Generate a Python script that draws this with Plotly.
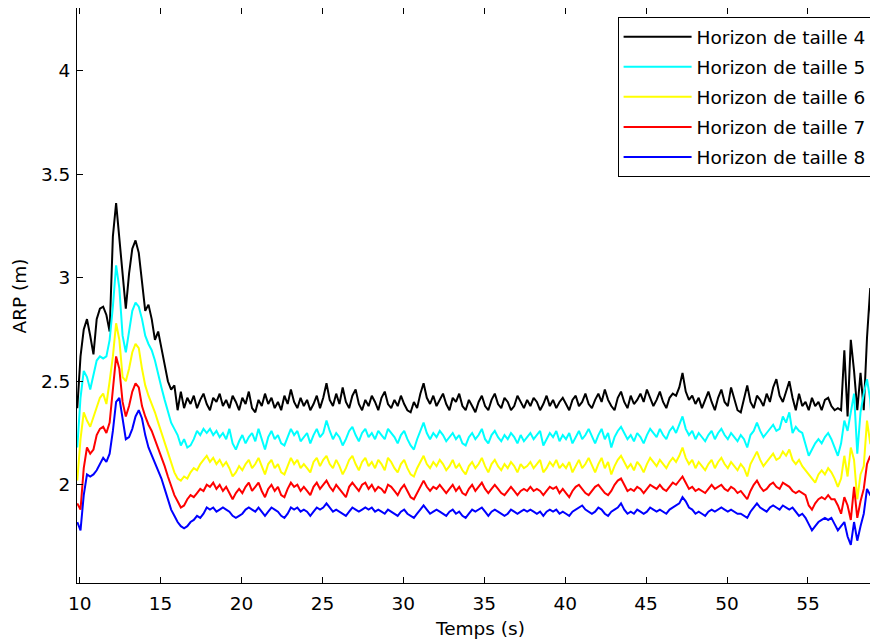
import numpy as np
import plotly.graph_objects as go

# time axis (s): 248 samples, 0.2 s apart
t = np.round(9.85 + 0.2 * np.arange(248), 2)

h4 = [
 2.37, 2.62, 2.75, 2.80, 2.72, 2.63, 2.80, 2.85, 2.86, 2.82,
 2.74, 3.20, 3.36, 3.18, 3.00, 2.85, 3.02, 3.14, 3.18, 3.12,
 2.98, 2.84, 2.87, 2.80, 2.70, 2.74, 2.66, 2.58, 2.50, 2.46,
 2.48, 2.36, 2.45, 2.37, 2.42, 2.39, 2.43, 2.37, 2.41, 2.44,
 2.39, 2.36, 2.42, 2.40, 2.44, 2.38, 2.41, 2.37, 2.43, 2.40,
 2.36, 2.42, 2.39, 2.45, 2.37, 2.35, 2.41, 2.38, 2.44, 2.39,
 2.42, 2.37, 2.40, 2.36, 2.43, 2.39, 2.46, 2.40, 2.37, 2.42,
 2.38, 2.41, 2.36, 2.39, 2.43, 2.37, 2.42, 2.49, 2.41, 2.38,
 2.44, 2.39, 2.47, 2.40, 2.37, 2.43, 2.46, 2.39, 2.36, 2.41,
 2.38, 2.43, 2.40, 2.36, 2.42, 2.45, 2.39, 2.37, 2.41, 2.38,
 2.43, 2.39, 2.36, 2.35, 2.40, 2.37, 2.44, 2.49, 2.42, 2.39,
 2.43, 2.38, 2.41, 2.44, 2.39, 2.36, 2.42, 2.40, 2.44, 2.38,
 2.36, 2.41, 2.38, 2.35, 2.40, 2.43, 2.38, 2.36, 2.41, 2.44,
 2.39, 2.37, 2.42, 2.40, 2.36, 2.38, 2.43, 2.40, 2.37, 2.41,
 2.38, 2.42, 2.40, 2.36, 2.39, 2.43, 2.38, 2.41, 2.37, 2.40,
 2.42, 2.39, 2.36, 2.41, 2.43, 2.38, 2.40, 2.44, 2.39, 2.37,
 2.41, 2.44, 2.40, 2.46, 2.41, 2.38, 2.36, 2.42, 2.45, 2.40,
 2.37, 2.43, 2.39, 2.41, 2.44, 2.40, 2.46, 2.42, 2.38, 2.41,
 2.45, 2.40, 2.37, 2.42, 2.44, 2.43, 2.47, 2.54, 2.45, 2.41,
 2.43, 2.39, 2.42, 2.37, 2.41, 2.45, 2.40, 2.36, 2.42, 2.46,
 2.40, 2.38, 2.47, 2.41, 2.36, 2.35, 2.42, 2.48, 2.40, 2.37,
 2.43, 2.41, 2.38, 2.44, 2.40, 2.47, 2.51, 2.43, 2.40, 2.45,
 2.50, 2.42, 2.36, 2.44, 2.38, 2.40, 2.36, 2.42, 2.38, 2.40,
 2.36, 2.41, 2.42, 2.38, 2.36, 2.37, 2.36, 2.65, 2.33, 2.70,
 2.55, 2.36, 2.54, 2.36, 2.71, 2.95, 2.42, 3.26,
]

h5 = [
 2.18, 2.42, 2.55, 2.52, 2.46, 2.53, 2.60, 2.62, 2.61, 2.62,
 2.70, 2.86, 3.06, 2.95, 2.72, 2.64, 2.74, 2.84, 2.88, 2.86,
 2.80, 2.72, 2.68, 2.65, 2.60, 2.53, 2.47, 2.41, 2.36, 2.30,
 2.27, 2.24, 2.19, 2.22, 2.18, 2.19, 2.22, 2.26, 2.24, 2.27,
 2.25, 2.27, 2.24, 2.26, 2.23, 2.25, 2.22, 2.27, 2.20, 2.17,
 2.21, 2.24, 2.20, 2.23, 2.25, 2.21, 2.27, 2.22, 2.17, 2.23,
 2.26, 2.22, 2.24, 2.20, 2.19, 2.23, 2.27, 2.24, 2.26, 2.21,
 2.23, 2.25, 2.20, 2.24, 2.27, 2.23, 2.25, 2.31, 2.26, 2.22,
 2.25, 2.23, 2.19, 2.22, 2.26, 2.28, 2.24, 2.21, 2.25, 2.27,
 2.23, 2.25, 2.22, 2.26, 2.24, 2.22, 2.27, 2.25, 2.23, 2.20,
 2.24, 2.26, 2.22, 2.19, 2.17, 2.22, 2.26, 2.30, 2.25, 2.22,
 2.25, 2.23, 2.26, 2.24, 2.21, 2.23, 2.25, 2.22, 2.24, 2.20,
 2.19, 2.23, 2.25, 2.22, 2.24, 2.27, 2.22, 2.20, 2.24, 2.26,
 2.23, 2.21, 2.24, 2.22, 2.25, 2.23, 2.20, 2.24, 2.21, 2.23,
 2.25, 2.22, 2.24, 2.26, 2.19, 2.22, 2.25, 2.23, 2.26, 2.21,
 2.24, 2.22, 2.25, 2.20, 2.23, 2.26, 2.22, 2.24, 2.27, 2.23,
 2.20, 2.24, 2.27, 2.22, 2.25, 2.18, 2.23, 2.26, 2.28, 2.25,
 2.22, 2.24, 2.21, 2.25, 2.23, 2.20, 2.24, 2.27, 2.25, 2.23,
 2.27, 2.24, 2.22, 2.26, 2.28, 2.25, 2.29, 2.33, 2.27, 2.24,
 2.26, 2.22, 2.25, 2.23, 2.21, 2.24, 2.26, 2.22, 2.25, 2.27,
 2.24, 2.22, 2.25, 2.23, 2.21, 2.24, 2.22, 2.18, 2.24, 2.26,
 2.30, 2.26, 2.23, 2.25, 2.27, 2.29, 2.26, 2.27, 2.33, 2.30,
 2.35, 2.25, 2.28, 2.26, 2.25, 2.20, 2.14, 2.17, 2.20, 2.22,
 2.20, 2.23, 2.25, 2.22, 2.18, 2.14, 2.20, 2.31, 2.26, 2.35,
 2.44, 2.15, 2.35, 2.44, 2.51, 2.41, 2.18, 2.76,
]

h6 = [
 2.02, 2.22, 2.35, 2.31, 2.28, 2.33, 2.38, 2.42, 2.44, 2.39,
 2.50, 2.62, 2.78, 2.70, 2.52, 2.50, 2.56, 2.64, 2.68, 2.66,
 2.56, 2.48, 2.43, 2.39, 2.35, 2.30, 2.25, 2.20, 2.15, 2.10,
 2.06, 2.03, 2.02, 2.04, 2.03, 2.06, 2.08, 2.07, 2.10, 2.12,
 2.14, 2.11, 2.13, 2.10, 2.12, 2.09, 2.11, 2.08, 2.04, 2.06,
 2.09, 2.07, 2.10, 2.12, 2.08, 2.10, 2.13, 2.09, 2.05, 2.10,
 2.12, 2.08, 2.10, 2.06, 2.05, 2.09, 2.13, 2.10, 2.12, 2.08,
 2.10, 2.08, 2.06, 2.11, 2.13, 2.09, 2.12, 2.14, 2.10, 2.08,
 2.12, 2.09, 2.05, 2.08, 2.12, 2.14, 2.10, 2.07, 2.11, 2.13,
 2.09, 2.11, 2.08, 2.12, 2.10, 2.07, 2.13, 2.11, 2.08, 2.06,
 2.10, 2.12, 2.08, 2.05, 2.04, 2.08, 2.11, 2.14, 2.10, 2.08,
 2.11, 2.09, 2.12, 2.10, 2.07, 2.09, 2.12, 2.08, 2.10, 2.07,
 2.05, 2.09, 2.11, 2.08, 2.10, 2.13, 2.09, 2.06, 2.10, 2.12,
 2.09, 2.07, 2.10, 2.08, 2.11, 2.09, 2.06, 2.10, 2.08, 2.09,
 2.11, 2.08, 2.10, 2.12, 2.06, 2.08, 2.11, 2.09, 2.12, 2.08,
 2.10, 2.08, 2.11, 2.06, 2.09, 2.12, 2.08, 2.10, 2.13, 2.09,
 2.06, 2.10, 2.13, 2.08, 2.11, 2.05, 2.09, 2.12, 2.14, 2.11,
 2.08, 2.10, 2.07, 2.11, 2.09, 2.06, 2.10, 2.13, 2.11, 2.09,
 2.12, 2.10, 2.08, 2.11, 2.13, 2.11, 2.14, 2.18, 2.13, 2.10,
 2.12, 2.08, 2.11, 2.09, 2.07, 2.10, 2.12, 2.08, 2.11, 2.13,
 2.10, 2.08, 2.11, 2.09, 2.07, 2.10, 2.08, 2.04, 2.10, 2.13,
 2.16, 2.12, 2.09, 2.11, 2.13, 2.15, 2.12, 2.13, 2.16, 2.14,
 2.17, 2.12, 2.10, 2.12, 2.09, 2.07, 2.05, 2.03, 2.01, 2.05,
 2.07, 2.05, 2.08, 2.06, 2.03, 1.99, 2.03, 2.14, 2.04, 2.18,
 2.12, 1.93, 2.05, 2.09, 2.31, 2.20, 2.18, 2.25,
]

h7 = [
 1.91, 1.88, 2.08, 2.18, 2.15, 2.17, 2.24, 2.27, 2.28, 2.25,
 2.30, 2.45, 2.62, 2.56, 2.40, 2.33, 2.38, 2.45, 2.49, 2.47,
 2.38, 2.33, 2.29, 2.26, 2.22, 2.18, 2.13, 2.09, 2.04, 1.99,
 1.95, 1.92, 1.89, 1.90, 1.93, 1.95, 1.94, 1.96, 1.98, 1.97,
 2.00, 1.99, 2.01, 1.98, 2.00, 1.97, 1.99, 1.96, 1.93, 1.96,
 1.98, 1.96, 1.99, 2.01, 1.97, 1.99, 2.01, 1.97, 1.94, 1.98,
 2.00, 1.97, 1.99, 1.95, 1.94, 1.98, 2.01, 1.99, 2.00, 1.97,
 1.99, 1.97, 1.95, 1.99, 2.01, 1.98, 2.00, 2.02, 1.99, 1.97,
 2.00, 1.98, 1.96, 1.94, 1.99, 2.01, 1.99, 1.97, 2.00, 2.01,
 1.98, 2.00, 1.97, 1.99, 1.98, 1.96, 2.00, 1.99, 1.97, 1.95,
 1.98, 2.00, 1.97, 1.94, 1.93, 1.96, 1.99, 2.02, 1.99, 1.97,
 1.99, 1.98, 2.00, 1.98, 1.96, 1.98, 2.00, 1.97, 1.99, 1.96,
 1.95, 1.98, 2.00, 1.97, 1.99, 2.01, 1.98, 1.96, 1.98, 2.00,
 1.98, 1.96, 1.95, 1.97, 1.99, 1.97, 1.95, 1.97, 1.98, 1.97,
 1.99, 1.97, 1.98, 1.97, 1.95, 1.97, 1.99, 1.98, 1.99, 1.96,
 1.98, 1.96, 1.94, 1.97, 1.99, 2.00, 1.98, 1.96, 1.95, 1.97,
 1.99, 2.00, 1.98, 1.96, 1.95, 1.97, 2.00, 2.02, 2.03, 2.00,
 1.97, 1.98, 1.97, 1.99, 1.98, 1.96, 1.98, 2.00, 1.99, 1.98,
 2.00, 1.98, 1.97, 1.99, 2.01, 2.00, 2.02, 2.04, 2.01, 1.98,
 1.99, 1.97, 1.98, 1.97, 1.96, 1.98, 2.00, 1.98, 1.99, 2.00,
 1.98, 1.97, 1.99, 1.98, 1.96, 1.97, 1.95, 1.93, 1.97, 2.00,
 2.02, 1.99, 1.97, 1.98, 2.00, 2.01, 1.99, 1.98, 2.01, 2.00,
 1.99, 1.97, 1.96, 1.97, 1.96, 1.95, 1.90, 1.88, 1.91, 1.93,
 1.94, 1.93, 1.95, 1.93, 1.93, 1.90, 1.86, 1.94, 1.90, 1.83,
 1.99, 1.84, 1.92, 1.98, 2.10, 2.14, 2.06, 2.09,
]

h8 = [
 1.82, 1.78, 1.95, 2.05, 2.04, 2.05, 2.07, 2.10, 2.13, 2.11,
 2.15, 2.26, 2.40, 2.42, 2.32, 2.22, 2.23, 2.27, 2.33, 2.36,
 2.32, 2.24, 2.18, 2.14, 2.11, 2.07, 2.03, 1.98, 1.93, 1.88,
 1.85, 1.82, 1.80, 1.79, 1.80, 1.82, 1.83, 1.85, 1.84, 1.86,
 1.89, 1.88, 1.89, 1.87, 1.88, 1.89, 1.88, 1.87, 1.85, 1.84,
 1.85, 1.86, 1.88, 1.89, 1.88, 1.87, 1.89, 1.87, 1.85, 1.87,
 1.89, 1.88, 1.87, 1.85, 1.84, 1.86, 1.89, 1.88, 1.89, 1.87,
 1.88, 1.87, 1.85, 1.87, 1.89, 1.88, 1.89, 1.91, 1.89, 1.87,
 1.88, 1.87, 1.86, 1.85, 1.87, 1.89, 1.88, 1.87, 1.88, 1.89,
 1.88, 1.89, 1.87, 1.88, 1.87, 1.86, 1.88, 1.87, 1.86, 1.85,
 1.87, 1.88, 1.86, 1.85, 1.84, 1.86, 1.88, 1.90, 1.88, 1.86,
 1.87, 1.88, 1.87, 1.86, 1.85, 1.87, 1.88, 1.86, 1.87, 1.85,
 1.84, 1.86, 1.88, 1.87, 1.88, 1.89, 1.87, 1.85, 1.87, 1.88,
 1.87, 1.86, 1.85, 1.86, 1.88, 1.87, 1.86, 1.87, 1.88, 1.87,
 1.88, 1.87, 1.86, 1.87, 1.85, 1.87, 1.88, 1.87, 1.88, 1.86,
 1.87, 1.86, 1.85, 1.87, 1.88, 1.89, 1.90, 1.88, 1.87, 1.86,
 1.87, 1.89, 1.88, 1.86, 1.85, 1.87, 1.88, 1.89, 1.91, 1.88,
 1.86, 1.87, 1.86, 1.88, 1.87, 1.86, 1.87, 1.89, 1.88, 1.87,
 1.88, 1.87, 1.86, 1.88, 1.89, 1.90, 1.91, 1.94, 1.92, 1.89,
 1.88, 1.86, 1.87, 1.86, 1.85, 1.87, 1.88, 1.87, 1.88, 1.89,
 1.88, 1.87, 1.88, 1.87, 1.86, 1.86, 1.85, 1.84, 1.87, 1.89,
 1.91, 1.89, 1.88, 1.87, 1.89, 1.90, 1.89, 1.88, 1.90, 1.89,
 1.88, 1.89, 1.87, 1.85, 1.86, 1.84, 1.81, 1.78, 1.80, 1.82,
 1.83, 1.84, 1.83, 1.84, 1.81, 1.78, 1.80, 1.82, 1.75, 1.71,
 1.82, 1.73, 1.80, 1.86, 1.98, 1.95, 1.94, 1.98,
]

names = ["Horizon de taille 4", "Horizon de taille 5", "Horizon de taille 6",
         "Horizon de taille 7", "Horizon de taille 8"]
colors = ["#000000", "#00FFFF", "#FFFF00", "#FF0000", "#0000FF"]
series = [h4, h5, h6, h7, h8]

x_ticks = [10, 15, 20, 25, 30, 35, 40, 45, 50, 55]
y_ticks = [2, 2.5, 3, 3.5, 4]
y_tick_labels = ["2", "2.5", "3", "3.5", "4"]
x_title = "Temps (s)"
y_title = "ARP (m)"

FONT = "DejaVu Sans"
FS = 18.5

fig = go.Figure()
for name, col, ys in zip(names, colors, series):
    fig.add_trace(go.Scatter(x=t, y=ys, mode="lines", name=name, legendgroup=name,
                             line=dict(color=col, width=2)))

# the page adds an 8 px body margin, so the figure is offset by 8 px
fig.update_layout(
    width=870, height=636,
    margin=dict(l=69, r=0, t=0, b=61),
    paper_bgcolor="white", plot_bgcolor="white",
    font=dict(family=FONT, size=FS, color="black"),
    showlegend=True,
    legend=dict(x=0.992, y=0.984, xanchor="right", yanchor="top",
                bgcolor="white", bordercolor="black", borderwidth=1,
                tracegroupgap=3, itemwidth=68,
                font=dict(family=FONT, size=FS, color="black")),
    annotations=[
        dict(text=x_title, xref="paper", yref="paper", x=0.5037, y=-0.0783,
             xanchor="center", yanchor="middle", showarrow=False,
             font=dict(family=FONT, size=FS, color="black")),
        dict(text=y_title, xref="paper", yref="paper", x=-0.0712, y=0.5,
             xanchor="center", yanchor="middle", textangle=-90, showarrow=False,
             font=dict(family=FONT, size=FS, color="black")),
    ],
)
fig.update_xaxes(range=[9.833, 59.33], tickvals=x_ticks, ticks="inside", ticklen=6,
                 tickcolor="black", showline=True, linecolor="black", linewidth=1,
                 mirror="ticks", showgrid=False, zeroline=False, automargin=False,
                 ticklabelstandoff=4)
fig.update_yaxes(range=[1.5255, 4.3027], tickvals=y_ticks, ticktext=y_tick_labels,
                 ticks="inside", ticklen=6, tickcolor="black", showline=True,
                 linecolor="black", linewidth=1, mirror="ticks", showgrid=False,
                 zeroline=False, automargin=False, ticklabelstandoff=2)

fig.write_html("out.html")
